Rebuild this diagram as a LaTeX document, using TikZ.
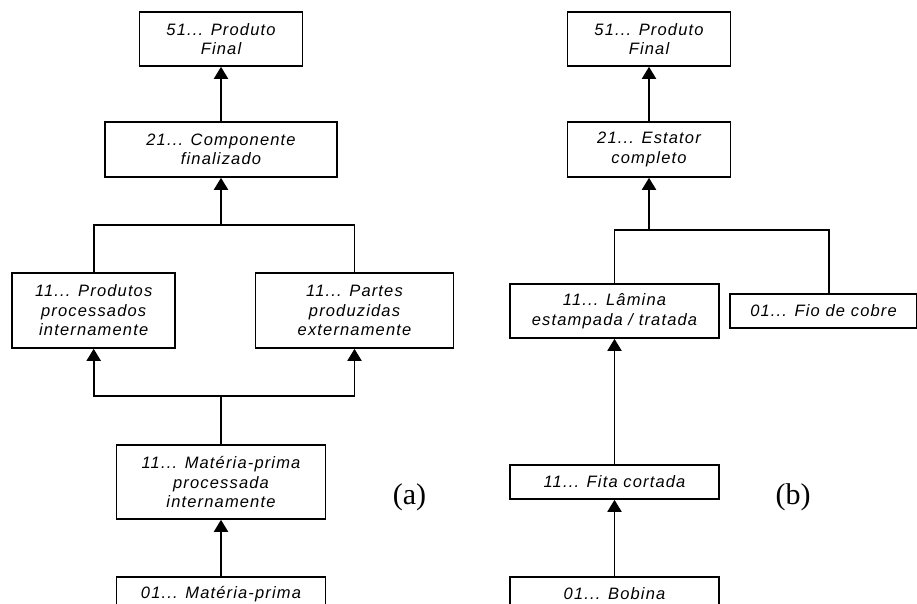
\documentclass[tikz,border=0pt]{standalone}
\usepackage{fontspec}
\setmainfont{Liberation Sans}
\newfontfamily\rotfont{Liberation Serif}
\usepackage{tikz}
\usetikzlibrary{arrows.meta}

\begin{document}
\begin{tikzpicture}[x=1pt, y=-1pt,
    item/.style={draw, line width=1.6pt, inner sep=0pt, align=center,
        font=\fontsize{16.5}{19.5}\selectfont\addfontfeature{LetterSpace=7}\itshape},
    seta/.style={line width=1.9pt, -{Triangle[width=14pt, length=12pt]}},
    linha/.style={line width=1.9pt},
    rot/.style={font=\rotfont\fontsize{30}{30}\selectfont}]

                \useasboundingbox (0,0) rectangle (917,604);
                \clip (0,0) rectangle (917,604);

                % Nodes (a)
                \node at (221,39) (a1) [item, minimum width=163pt, minimum height=54pt] {51... Produto\\Final};
                \node at (221,149.5) (a2) [item, minimum width=232pt, minimum height=55pt] {21... Componente\\finalizado};
                \node at (93.7,310.5) (a3) [item, minimum width=163pt, minimum height=75pt] {11... Produtos\\processados\\internamente};
                \node at (354.5,310.5) (a4) [item, minimum width=198pt, minimum height=75pt] {11... Partes\\produzidas\\externamente};
                \node at (221,482) (a5) [item, minimum width=209pt, minimum height=74pt] {11... Matéria-prima\\processada\\internamente};
                \node at (221,576) (a6) [item, anchor=north, minimum width=209pt, minimum height=34pt] {01... Matéria-prima};
                \node at (409.5,497) (la) [rot] {(a)};
                \coordinate (ja1) at (221,225);
                \coordinate (ja2) at (221,396);

                % Nodes (b)
                \node at (649,39) (b1) [item, minimum width=163pt, minimum height=54pt] {51... Produto\\Final};
                \node at (649,149.5) (b2) [item, minimum width=163pt, minimum height=55pt] {21... Estator\\completo};
                \node at (614.5,311) (b3) [item, minimum width=209pt, minimum height=54pt] {11... Lâmina\\estampada / tratada};
                \node at (823.5,311) (b4) [item, minimum width=187pt, minimum height=34pt] {01... Fio de cobre};
                \node at (614.5,482) (b5) [item, minimum width=209pt, minimum height=34pt] {11... Fita cortada};
                \node at (614.5,576) (b6) [item, anchor=north, minimum width=209pt, minimum height=34pt] {01... Bobina};
                \node at (793,497) (lb) [rot] {(b)};
                \coordinate (jb) at (649,230);

                % Arrows (a)
                \draw[seta] (a2) -- (a1);
                \draw[seta] (ja1) -- (a2);
                \draw[linha] (a3.north) |- (ja1) -| (a4.north);
                \draw[linha] (a5) -- (ja2);
                \draw[seta] (ja2) -| (a3.south);
                \draw[seta] (ja2) -| (a4.south);
                \draw[seta] (a6) -- (a5);

                % Arrows (b)
                \draw[seta] (b2) -- (b1);
                \draw[seta] (jb) -- (b2);
                \draw[linha] (b3.north) |- (jb) -| ([xshift=5.5pt]b4.north);
                \draw[seta] (b5) -- (b3);
                \draw[seta] (b6) -- (b5);

            \end{tikzpicture}
\end{document}
